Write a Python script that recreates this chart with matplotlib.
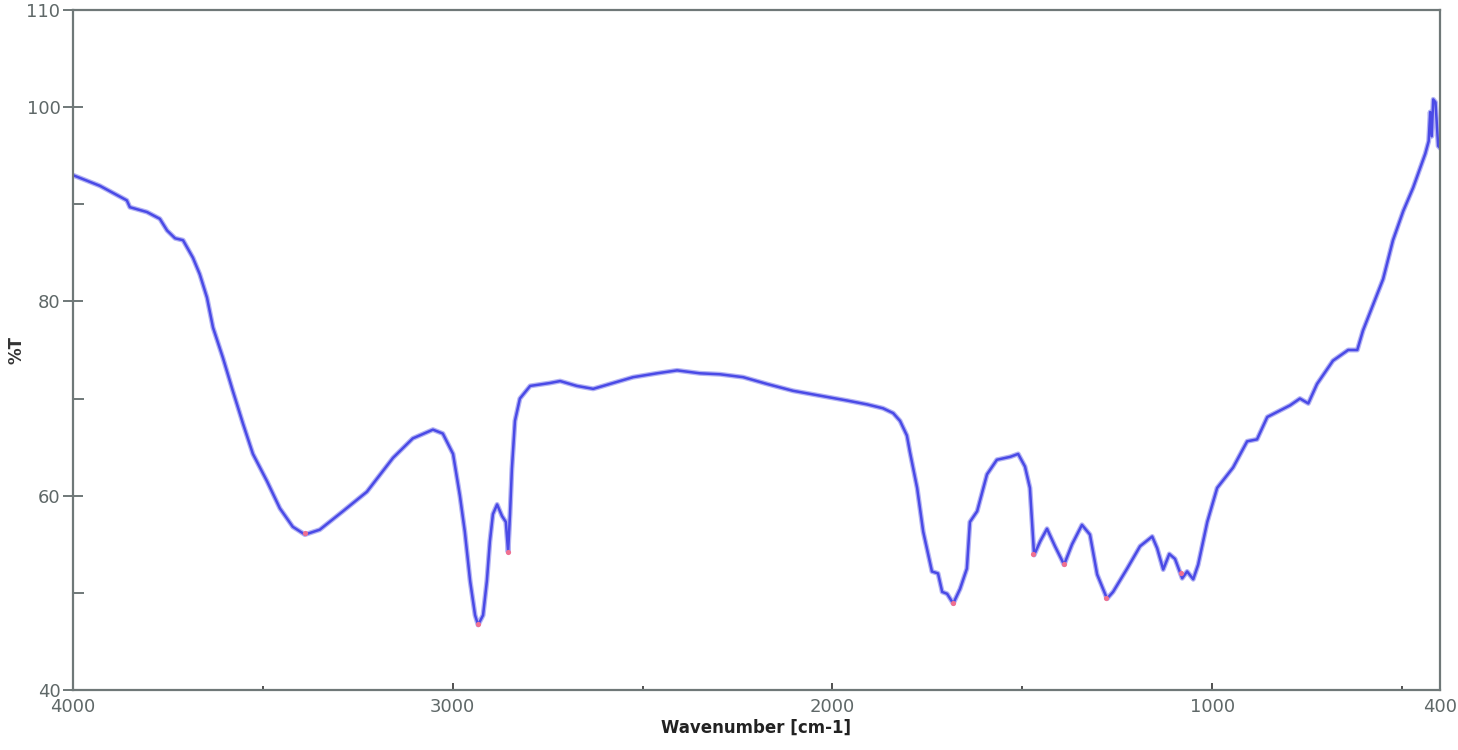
import matplotlib
matplotlib.use("Agg")
import matplotlib.pyplot as plt

# FTIR spectrum
wavenumber = [4000, 3929, 3858, 3850, 3805, 3771, 3752, 3731, 3710, 3684, 3666, 3647,
              3631, 3605, 3579, 3552, 3526, 3489, 3455, 3421, 3389, 3350, 3289, 3226,
              3157, 3105, 3052, 3026, 2999, 2981, 2968, 2954, 2941, 2933, 2920, 2910,
              2902, 2894, 2883, 2870, 2860, 2854, 2849, 2844, 2836, 2823, 2796, 2744,
              2717, 2673, 2630, 2586, 2525, 2462, 2409, 2349, 2296, 2235, 2172, 2104,
              2033, 1962, 1909, 1867, 1840, 1822, 1804, 1796, 1777, 1761, 1738, 1722,
              1711, 1698, 1682, 1664, 1646, 1638, 1619, 1593, 1567, 1532, 1511, 1493,
              1480, 1472, 1469, 1453, 1435, 1414, 1390, 1369, 1343, 1322, 1303, 1277,
              1261, 1224, 1190, 1158, 1145, 1129, 1113, 1098, 1079, 1066, 1050, 1037,
              1013, 987, 945, 908, 882, 855, 795, 769, 747, 724, 682, 642,
              618, 603, 550, 524, 497, 471, 439, 430, 426, 422, 418, 412,
              405, 400]
transmittance = [93.0, 91.9, 90.4, 89.7, 89.2, 88.5, 87.3, 86.5, 86.3, 84.5, 82.8, 80.4,
                 77.3, 74.2, 70.8, 67.4, 64.3, 61.5, 58.7, 56.8, 56.0, 56.5, 58.4, 60.4,
                 63.9, 65.9, 66.8, 66.4, 64.3, 60.0, 56.3, 51.2, 47.7, 46.7, 47.7, 51.2,
                 55.3, 58.1, 59.1, 57.9, 57.3, 54.2, 58.1, 62.8, 67.7, 70.0, 71.3, 71.6,
                 71.8, 71.3, 71.0, 71.5, 72.2, 72.6, 72.9, 72.6, 72.5, 72.2, 71.5, 70.8,
                 70.3, 69.8, 69.4, 69.0, 68.5, 67.7, 66.2, 64.5, 60.8, 56.3, 52.2, 52.0,
                 50.1, 49.9, 48.9, 50.4, 52.5, 57.3, 58.4, 62.2, 63.7, 64.0, 64.3, 63.0,
                 60.8, 55.7, 53.9, 55.3, 56.6, 54.8, 52.9, 55.0, 57.0, 56.0, 51.9, 49.4,
                 50.1, 52.5, 54.8, 55.8, 54.6, 52.4, 54.0, 53.5, 51.5, 52.2, 51.4, 52.9,
                 57.3, 60.8, 62.9, 65.6, 65.8, 68.1, 69.3, 70.0, 69.5, 71.5, 73.9, 75.0,
                 75.0, 77.0, 82.3, 86.3, 89.3, 91.7, 95.2, 96.5, 99.5, 97.0, 100.8, 100.5,
                 96.0, 95.8]

# picked peaks (pink markers)
peak_wn = [3389, 2933, 2854, 1682, 1472, 1390, 1280, 1082]
peak_t = [56.2, 46.8, 54.2, 49.0, 54.0, 53.0, 49.5, 52.0]

fig = plt.figure(figsize=(14.58, 7.5), dpi=100)
ax = fig.add_axes([0.050, 0.080, 0.9377, 0.9067])

ax.plot(wavenumber, transmittance, color="#b4b4f4", lw=3.6, solid_joinstyle="round")
ax.plot(wavenumber, transmittance, color="#4a4ae6", lw=1.8, solid_joinstyle="round")
ax.scatter(peak_wn, peak_t, s=14, color="#f07090", zorder=3, linewidths=0)

ax.set_xlim(4000, 400)
ax.set_ylim(40, 110)

axis_col = "#6f7878"
for sp in ax.spines.values():
    sp.set_color(axis_col)
    sp.set_linewidth(1.6)

ax.set_xticks([4000, 3000, 2000, 1000, 400])
ax.set_xticks([3500, 2500, 1500, 500], minor=True)
ax.set_yticks([40, 60, 80, 100, 110])
ax.set_yticks([50, 70, 90], minor=True)

ax.tick_params(axis="x", which="major", direction="in", length=5, width=1.2,
               color="#333333", labelsize=13, labelcolor="#5f6868", pad=6)
ax.tick_params(axis="x", which="minor", direction="in", length=3, width=1.2,
               color="#333333")
ax.tick_params(axis="y", which="major", direction="inout", length=14, width=1.4,
               color=axis_col, labelsize=13, labelcolor="#5f6868", pad=2)
ax.tick_params(axis="y", which="minor", direction="in", length=8, width=1.4,
               color=axis_col)
ax.tick_params(top=False, right=False)

ax.set_xlabel("Wavenumber [cm-1]", fontsize=12, fontweight="bold", color="#222222",
              labelpad=2)
ax.set_ylabel("%T", fontsize=12, fontweight="bold", color="#333333")
ax.yaxis.set_label_coords(-0.035, 0.5)

fig.savefig("out.png", dpi=100)
